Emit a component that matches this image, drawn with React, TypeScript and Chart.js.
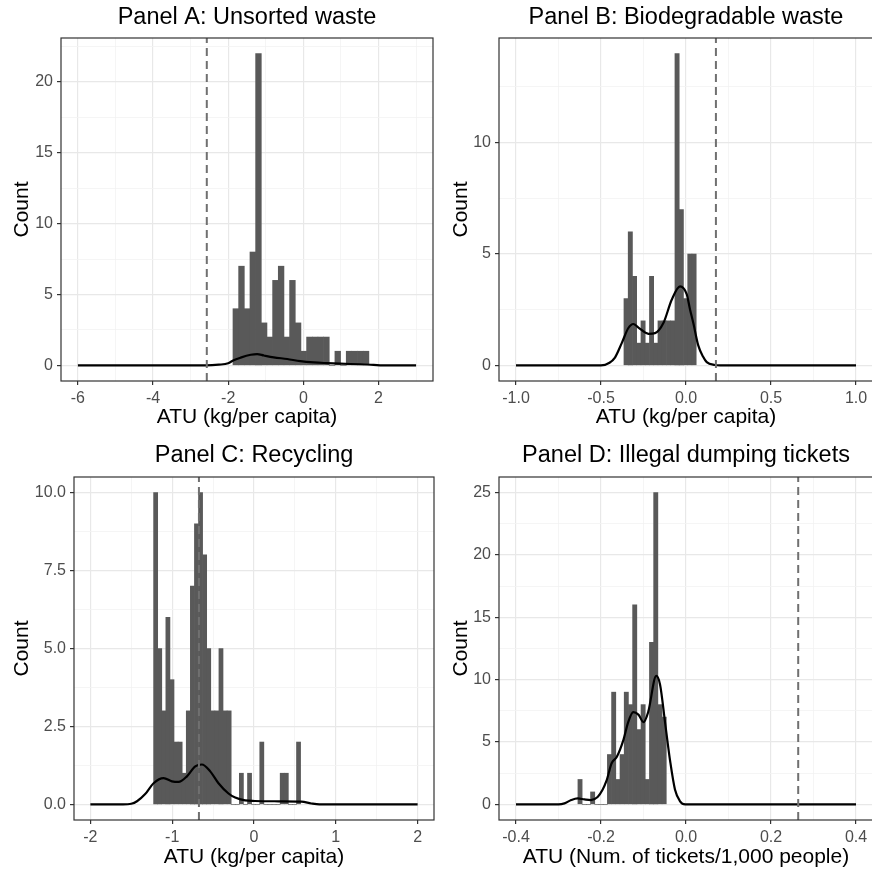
import React, { useEffect, useRef } from 'react';
import { Chart, registerables } from 'chart.js';

Chart.register(...registerables);

const FONT = '"Liberation Sans", Arial, Helvetica, sans-serif';

// ---------- Panel A: Unsorted waste ----------
const A_BIN_START = -1.873;
const A_BIN_WIDTH = 0.1507;
const A_COUNTS = [4, 7, 4, 8, 22, 3, 2, 6, 7, 2, 6, 3, 1, 2, 2, 2, 2, 0, 1, 0, 1, 1, 1, 1];
const A_DENS_X = [-6, -2.6, -2.25, -2.0, -1.87, -1.67, -1.4, -1.23, -1.05, -0.79, -0.43, -0.08, 0.28, 0.63, 0.98, 1.51, 1.87, 2.1, 3];
const A_DENS_Y = [0, 0, 0.05, 0.15, 0.35, 0.55, 0.75, 0.8, 0.7, 0.57, 0.45, 0.3, 0.21, 0.16, 0.12, 0.08, 0.04, 0, 0];
const A_VLINE = -2.57;
const A_X_RANGE = [-6.45, 3.45];
const A_Y_RANGE = [-1.1, 23.1];
const A_X_MAJOR = [-6, -4, -2, 0, 2];
const A_X_MINOR = [-5, -3, -1, 1, 3];
const A_Y_MAJOR = [0, 5, 10, 15, 20];
const A_Y_MINOR = [2.5, 7.5, 12.5, 17.5, 22.5];

// ---------- Panel B: Biodegradable waste ----------
const B_BIN_START = -0.365;
const B_BIN_WIDTH = 0.025;
const B_COUNTS = [3, 6, 4, 1, 2, 1, 4, 1, 2, 2, 2, 2, 14, 7, 3, 5, 5];
const B_DENS_X = [-1, -0.5, -0.45, -0.418, -0.378, -0.339, -0.31, -0.28, -0.221, -0.182, -0.133, -0.084, -0.035, 0.004, 0.024, 0.043, 0.072, 0.1, 0.122, 0.17, 0.2, 1];
const B_DENS_Y = [0, 0, 0.12, 0.35, 1.0, 1.68, 1.86, 1.7, 1.42, 1.45, 1.9, 2.95, 3.55, 3.2, 2.5, 1.9, 0.9, 0.4, 0.15, 0.02, 0, 0];
const B_VLINE = 0.176;
const B_X_RANGE = [-1.1, 1.1];
const B_Y_RANGE = [-0.7, 14.7];
const B_X_MAJOR = [-1, -0.5, 0, 0.5, 1];
const B_X_MINOR = [-0.75, -0.25, 0.25, 0.75];
const B_Y_MAJOR = [0, 5, 10];
const B_Y_MINOR = [2.5, 7.5, 12.5];

// ---------- Panel C: Recycling ----------
const C_BIN_START = -1.227;
const C_BIN_WIDTH = 0.0499;
const C_COUNTS = [10, 5, 3, 6, 4, 2, 2, 1, 3, 7, 9, 10, 8, 5, 3, 3, 5, 3, 3, 0, 0, 1, 0, 1, 0, 0, 2, 0, 0, 0, 0, 1, 1, 0, 0, 2];
const C_DENS_X = [-2, -1.6, -1.5, -1.43, -1.33, -1.227, -1.105, -1.003, -0.922, -0.82, -0.718, -0.637, -0.535, -0.434, -0.312, -0.23, -0.11, 0.01, 0.3, 0.58, 0.7, 0.8, 2];
const C_DENS_Y = [0, 0, 0.02, 0.1, 0.33, 0.68, 0.84, 0.74, 0.72, 0.9, 1.22, 1.28, 1.06, 0.68, 0.35, 0.22, 0.13, 0.11, 0.1, 0.09, 0.03, 0, 0];
const C_VLINE = -0.673;
const C_X_RANGE = [-2.2, 2.2];
const C_Y_RANGE = [-0.5, 10.5];
const C_X_MAJOR = [-2, -1, 0, 1, 2];
const C_X_MINOR = [-1.5, -0.5, 0.5, 1.5];
const C_Y_MAJOR = [0, 2.5, 5, 7.5, 10];
const C_Y_MINOR = [1.25, 3.75, 6.25, 8.75];

// ---------- Panel D: Illegal dumping tickets ----------
const D_BIN_START = -0.2543;
const D_BIN_WIDTH = 0.0099;
const D_COUNTS = [2, 0, 0, 1, 0, 0, 0, 4, 9, 2, 4, 9, 8, 16, 6, 8, 2, 13, 25, 8, 7];
const D_DENS_X = [-0.4, -0.3, -0.286, -0.27, -0.255, -0.239, -0.224, -0.208, -0.196, -0.187, -0.175, -0.163, -0.147, -0.136, -0.124, -0.112, -0.1, -0.089, -0.07, -0.061, -0.049, -0.037, -0.026, -0.014, -0.002, 0.01, 0.4];
const D_DENS_Y = [0, 0, 0.08, 0.35, 0.48, 0.4, 0.35, 0.6, 1.2, 1.9, 3.3, 3.8, 5.2, 6.6, 7.4, 7.2, 6.6, 7.4, 10.3, 9.6, 6.5, 3.4, 1.2, 0.25, 0, 0, 0];
const D_VLINE = 0.264;
const D_X_RANGE = [-0.44, 0.44];
const D_Y_RANGE = [-1.25, 26.25];
const D_X_MAJOR = [-0.4, -0.2, 0, 0.2, 0.4];
const D_X_MINOR = [-0.3, -0.1, 0.1, 0.3];
const D_Y_MAJOR = [0, 5, 10, 15, 20, 25];
const D_Y_MINOR = [2.5, 7.5, 12.5, 17.5, 22.5];

interface Box { left: number; top: number; width: number; height: number; l: number; t: number; r: number; b: number; titleY: number; yTitleX: number; xTitleY: number; }
interface Panel {
  title: string; xTitle: string; yTitle: string;
  binStart: number; binWidth: number; counts: number[];
  densX: number[]; densY: number[]; vline: number;
  xRange: number[]; yRange: number[];
  xMajor: number[]; xMinor: number[]; yMajor: number[]; yMinor: number[];
  xDec: number; yDec: number; box: Box;
}

const PANELS: Panel[] = [
  {
    title: 'Panel A: Unsorted waste', xTitle: 'ATU (kg/per capita)', yTitle: 'Count',
    binStart: A_BIN_START, binWidth: A_BIN_WIDTH, counts: A_COUNTS, densX: A_DENS_X, densY: A_DENS_Y, vline: A_VLINE,
    xRange: A_X_RANGE, yRange: A_Y_RANGE, xMajor: A_X_MAJOR, xMinor: A_X_MINOR, yMajor: A_Y_MAJOR, yMinor: A_Y_MINOR,
    xDec: 0, yDec: 0,
    box: { left: 0, top: 0, width: 436, height: 437, l: 61, t: 38, r: 433, b: 381, titleY: 18, yTitleX: 22, xTitleY: 417 },
  },
  {
    title: 'Panel B: Biodegradable waste', xTitle: 'ATU (kg/per capita)', yTitle: 'Count',
    binStart: B_BIN_START, binWidth: B_BIN_WIDTH, counts: B_COUNTS, densX: B_DENS_X, densY: B_DENS_Y, vline: B_VLINE,
    xRange: B_X_RANGE, yRange: B_Y_RANGE, xMajor: B_X_MAJOR, xMinor: B_X_MINOR, yMajor: B_Y_MAJOR, yMinor: B_Y_MINOR,
    xDec: 1, yDec: 0,
    box: { left: 436, top: 0, width: 438, height: 437, l: 63, t: 38, r: 437, b: 381, titleY: 18, yTitleX: 25, xTitleY: 417 },
  },
  {
    title: 'Panel C: Recycling', xTitle: 'ATU (kg/per capita)', yTitle: 'Count',
    binStart: C_BIN_START, binWidth: C_BIN_WIDTH, counts: C_COUNTS, densX: C_DENS_X, densY: C_DENS_Y, vline: C_VLINE,
    xRange: C_X_RANGE, yRange: C_Y_RANGE, xMajor: C_X_MAJOR, xMinor: C_X_MINOR, yMajor: C_Y_MAJOR, yMinor: C_Y_MINOR,
    xDec: 0, yDec: 1,
    box: { left: 0, top: 437, width: 436, height: 438, l: 74, t: 40, r: 434, b: 383, titleY: 19, yTitleX: 22, xTitleY: 420 },
  },
  {
    title: 'Panel D: Illegal dumping tickets', xTitle: 'ATU (Num. of tickets/1,000 people)', yTitle: 'Count',
    binStart: D_BIN_START, binWidth: D_BIN_WIDTH, counts: D_COUNTS, densX: D_DENS_X, densY: D_DENS_Y, vline: D_VLINE,
    xRange: D_X_RANGE, yRange: D_Y_RANGE, xMajor: D_X_MAJOR, xMinor: D_X_MINOR, yMajor: D_Y_MAJOR, yMinor: D_Y_MINOR,
    xDec: 1, yDec: 0,
    box: { left: 436, top: 437, width: 438, height: 438, l: 63, t: 40, r: 437, b: 383, titleY: 19, yTitleX: 25, xTitleY: 420 },
  },
];

const borderPlugin = {
  id: 'panelBorder',
  afterDraw(chart: any) {
    const { ctx, chartArea: a } = chart;
    ctx.save();
    ctx.strokeStyle = '#333333';
    ctx.lineWidth = 1.2;
    ctx.strokeRect(a.left, a.top, a.right - a.left, a.bottom - a.top);
    ctx.restore();
  },
};

function mkTicks(major: number[], minor: number[]) {
  return [
    ...major.map((v) => ({ value: v, minor: false })),
    ...minor.map((v) => ({ value: v, minor: true })),
  ].sort((a, b) => a.value - b.value);
}

const gridColor = (c: any) => (c.tick && c.tick.minor ? '#F3F3F3' : '#E8E8E8');
const gridWidth = (c: any) => (c.tick && c.tick.minor ? 0.8 : 1.2);
const tickColor = (c: any) => (c.tick && c.tick.minor ? 'rgba(0,0,0,0)' : '#333333');

function PanelChart({ p }: { p: Panel }) {
  const ref = useRef<HTMLCanvasElement>(null);
  useEffect(() => {
    const bx = p.box;
    const titleSize = 23.5;
    const axisTitleSize = 21;
    const chart = new Chart(ref.current as HTMLCanvasElement, {
      type: 'bar',
      data: {
        datasets: [
          {
            type: 'line',
            data: [{ x: p.vline, y: p.yRange[0] }, { x: p.vline, y: p.yRange[1] }],
            borderColor: '#707070',
            borderWidth: 2,
            borderDash: [8, 5],
            pointRadius: 0,
            order: 1,
          } as any,
          {
            type: 'line',
            data: p.densX.map((x, i) => ({ x, y: p.densY[i] })),
            borderColor: '#000000',
            borderWidth: 2.2,
            pointRadius: 0,
            cubicInterpolationMode: 'monotone',
            order: 2,
          } as any,
          {
            type: 'bar',
            data: p.counts.map((c, i) => ({ x: p.binStart + (i + 0.5) * p.binWidth, y: c })),
            backgroundColor: '#595959',
            borderWidth: 0,
            barPercentage: 1,
            categoryPercentage: 1,
            order: 3,
          } as any,
        ],
      },
      options: {
        responsive: false,
        animation: false,
        events: [],
        layout: { padding: { top: 0, left: 0, right: bx.width - bx.r, bottom: 0 } },
        plugins: {
          legend: { display: false },
          tooltip: { enabled: false },
          title: {
            display: true,
            text: p.title,
            fullSize: false,
            color: '#000000',
            font: { family: FONT, size: titleSize, weight: 'normal', lineHeight: 1 },
            padding: { top: bx.titleY - titleSize / 2, bottom: bx.t - bx.titleY - titleSize / 2 },
          },
        },
        scales: {
          x: {
            type: 'linear',
            min: p.xRange[0],
            max: p.xRange[1],
            offset: false,
            bounds: 'data',
            afterBuildTicks: (s: any) => { s.ticks = mkTicks(p.xMajor, p.xMinor); },
            afterFit: (s: any) => { s.height = bx.height - bx.b; },
            ticks: {
              autoSkip: false,
              maxRotation: 0,
              padding: 4,
              color: '#4D4D4D',
              font: { family: FONT, size: 16 },
              callback: (v: any, i: number, ts: any[]) => (ts[i] && ts[i].minor ? '' : Number(v).toFixed(p.xDec)),
            },
            grid: { offset: false, color: gridColor, lineWidth: gridWidth, tickLength: 4, tickColor, tickWidth: 1.2 },
            border: { display: false },
            title: {
              display: true,
              text: p.xTitle,
              color: '#000000',
              font: { family: FONT, size: axisTitleSize, lineHeight: 1 },
              padding: { top: 0, bottom: bx.height - bx.xTitleY - axisTitleSize / 2 },
            },
          },
          y: {
            type: 'linear',
            min: p.yRange[0],
            max: p.yRange[1],
            bounds: 'data',
            afterBuildTicks: (s: any) => { s.ticks = mkTicks(p.yMajor, p.yMinor); },
            afterFit: (s: any) => { s.width = bx.l; },
            ticks: {
              autoSkip: false,
              padding: 4,
              color: '#4D4D4D',
              font: { family: FONT, size: 16 },
              callback: (v: any, i: number, ts: any[]) => (ts[i] && ts[i].minor ? '' : Number(v).toFixed(p.yDec)),
            },
            grid: { color: gridColor, lineWidth: gridWidth, tickLength: 4, tickColor, tickWidth: 1.2 },
            border: { display: false },
            title: {
              display: true,
              text: p.yTitle,
              color: '#000000',
              font: { family: FONT, size: axisTitleSize, lineHeight: 1 },
              padding: { top: bx.yTitleX - axisTitleSize / 2, bottom: 0 },
            },
          },
        },
      } as any,
      plugins: [borderPlugin],
    });
    return () => chart.destroy();
  }, [p]);
  const bx = p.box;
  return (
    <canvas
      ref={ref}
      width={bx.width}
      height={bx.height}
      style={{ position: 'absolute', left: bx.left, top: bx.top, display: 'block' }}
    />
  );
}

export default function App() {
  return (
    <div
      style={{
        position: 'absolute',
        left: 0,
        top: 0,
        width: 872,
        height: 875,
        overflow: 'hidden',
        background: '#ffffff',
      }}
    >
      {PANELS.map((p, i) => (
        <PanelChart key={i} p={p} />
      ))}
    </div>
  );
}
